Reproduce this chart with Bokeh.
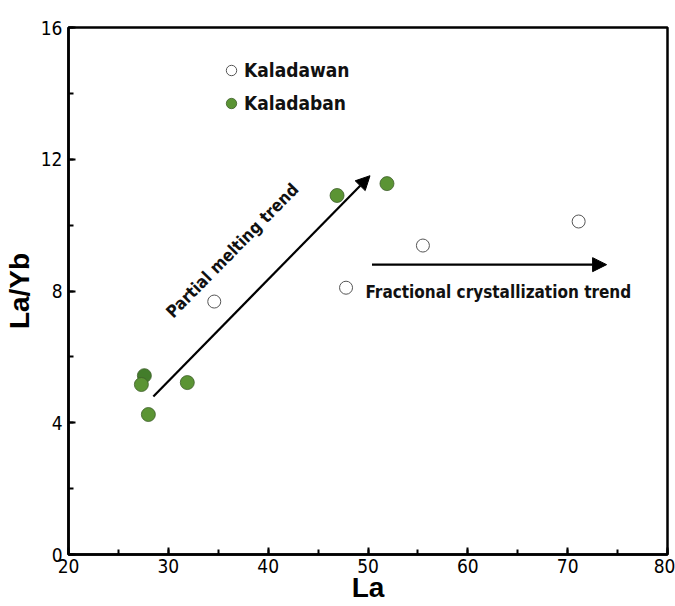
from bokeh.plotting import figure
from bokeh.models import (Arrow, NormalHead, Legend, LegendItem, Range1d,
                          FixedTicker, ColumnDataSource)
from bokeh.core.properties import value
from bokeh.embed import file_html
from bokeh.resources import INLINE
import math

# Kaladawan samples (open circles)
kdw_la = [34.6, 47.8, 55.5, 71.1]
kdw_layb = [7.68, 8.10, 9.38, 10.11]

# Kaladaban samples (green circles)
kdb_la = [27.6, 27.3, 28.0, 31.9, 46.9, 51.9]
kdb_layb = [5.43, 5.16, 4.25, 5.22, 10.90, 11.26]
kdb_fill = ["#437d2b", "#5b9434", "#5b9434", "#5b9434", "#5b9434", "#5b9434"]

# Trend arrows: (x_start, y_start, x_end, y_end)
melt_arrow = (28.5, 4.80, 50.2, 11.50)
frac_arrow = (50.4, 8.80, 73.9, 8.80)

x_ticks = [20, 30, 40, 50, 60, 70, 80]
y_ticks = [0, 4, 8, 12, 16]

NARROW = "DejaVu Sans Condensed"

p = figure(width=675, height=606, output_backend="svg", toolbar_location=None,
           x_range=Range1d(20, 80), y_range=Range1d(0, 16),
           min_border_left=68, min_border_right=8, min_border_top=27,
           min_border_bottom=52)
p.grid.visible = False
p.outline_line_color = "black"
p.outline_line_width = 2.5
p.background_fill_color = "white"
p.border_fill_color = "white"

for ax in (p.xaxis[0], p.yaxis[0]):
    ax.axis_line_width = 2.5
    ax.major_tick_in = 7
    ax.major_tick_out = 0
    ax.minor_tick_in = 5
    ax.minor_tick_out = 0
    ax.major_tick_line_width = 2
    ax.minor_tick_line_width = 2
    ax.major_label_text_font = NARROW
    ax.major_label_text_font_size = "19px"
    ax.major_label_text_color = "black"
    ax.axis_label_text_font = "Liberation Sans"
    ax.axis_label_text_font_style = "bold"
    ax.axis_label_text_font_size = "28px"
    ax.axis_label_text_color = "black"

p.xaxis.ticker = FixedTicker(ticks=x_ticks, minor_ticks=list(range(20, 81, 5)))
p.yaxis.ticker = FixedTicker(ticks=y_ticks, minor_ticks=list(range(0, 17, 2)))
p.xaxis.axis_label = "La"
p.yaxis.axis_label = "La/Yb"
p.xaxis.major_label_standoff = 4
p.xaxis.axis_label_standoff = -4
p.yaxis.major_label_standoff = 6
p.yaxis.axis_label_standoff = 3

r_kdw = p.scatter(kdw_la, kdw_layb, size=13, marker="circle",
                  fill_color="white", line_color="#555555", line_width=1)
src_kdb = ColumnDataSource(dict(x=kdb_la, y=kdb_layb, c=kdb_fill))
r_kdb = p.scatter("x", "y", source=src_kdb, size=14, marker="circle",
                  fill_color="c", line_color="#3d5e2a", line_width=0.8)

legend = Legend(items=[LegendItem(label="Kaladawan", renderers=[r_kdw]),
                       LegendItem(label="Kaladaban", renderers=[r_kdb], index=1)],
                location=(150, 436), border_line_color=None,
                background_fill_alpha=0, label_text_font=NARROW,
                label_text_font_style="bold", label_text_font_size="19px",
                label_text_color="#111111",
                spacing=3, glyph_width=26, glyph_height=30, label_standoff=0,
                padding=0, margin=0)
p.add_layout(legend, "center")

for (x0, y0, x1, y1) in (melt_arrow, frac_arrow):
    p.add_layout(Arrow(x_start=x0, y_start=y0, x_end=x1, y_end=y1,
                       line_width=2.2, line_color="black",
                       end=NormalHead(size=14, fill_color="black",
                                      line_color="black")))

p.text(x=[36.4], y=[9.23], text=["Partial melting trend"], angle=math.radians(45.5),
       text_align="center", text_baseline="middle",
       text_font=value(NARROW), text_font_style="bold",
       text_font_size="17px", text_color="#111111")
p.text(x=[49.75], y=[7.98], text=["Fractional crystallization trend"],
       text_align="left", text_baseline="middle",
       text_font=value(NARROW), text_font_style="bold",
       text_font_size="17px", text_color="#111111")

open("out.html", "w").write(file_html(p, INLINE))
